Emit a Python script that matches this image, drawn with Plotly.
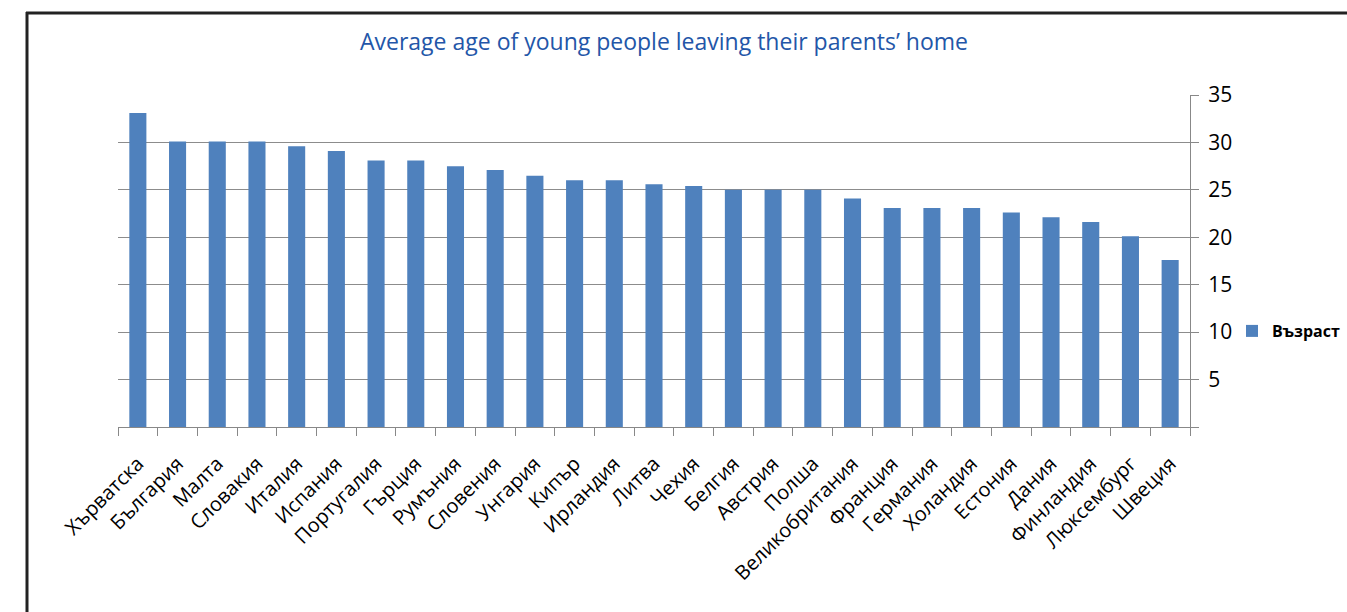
import plotly.graph_objects as go

countries = ["Хърватска", "България", "Малта", "Словакия", "Италия", "Испания",
             "Португалия", "Гърция", "Румъния", "Словения", "Унгария", "Кипър",
             "Ирландия", "Литва", "Чехия", "Белгия", "Австрия", "Полша",
             "Великобритания", "Франция", "Германия", "Холандия", "Естония",
             "Дания", "Финландия", "Люксембург", "Швеция"]
ages = [33.1, 30.1, 30.1, 30.1, 29.6, 29.1, 28.1, 28.1, 27.5, 27.1, 26.5, 26.0,
        26.0, 25.6, 25.4, 25.0, 25.0, 25.0, 24.1, 23.1, 23.1, 23.1, 22.6,
        22.1, 21.6, 20.1, 17.6]
y_ticks = [0, 5, 10, 15, 20, 25, 30, 35]
y_labels = ["", "5", "10", "15", "20", "25", "30", "35"]
series_name = "Възраст"
title_text = "Average age of young people leaving their parents’ home"

FONT = "Open Sans"
W, H = 1347, 612
L, R, T, B = 118, 157, 95, 185
pw, ph = W - L - R, H - T - B

def px_x(px):
    return (px - L) / pw

def px_y(py):
    return (H - B - py) / ph

fig = go.Figure()
fig.add_trace(go.Bar(
    x=countries, y=ages, name="<b>" + series_name + "</b>",
    marker=dict(color="#4F81BD", line=dict(width=0)),
    showlegend=True,
))

fig.update_layout(
    width=W, height=H,
    margin=dict(l=L, r=R, t=T, b=B, autoexpand=False),
    paper_bgcolor="white", plot_bgcolor="white",
    font=dict(family=FONT, color="#000000"),
    bargap=0.57,
    title=dict(text=title_text, x=px_x(664), xref="paper", xanchor="center",
               y=1 - 42 / H, yref="container", yanchor="middle",
               font=dict(family=FONT, size=23, color="#2356A8")),
    xaxis=dict(type="category", tickangle=-45, tickson="boundaries",
               ticks="outside", ticklen=8, tickcolor="#888888", tickwidth=1,
               showline=True, linecolor="#888888", linewidth=1,
               ticklabelstandoff=16,
               showgrid=False, tickfont=dict(family=FONT, size=20, color="#000000")),
    yaxis=dict(side="right", range=[0, 35], tickvals=y_ticks, ticktext=y_labels,
               ticks="outside", ticklen=8, tickcolor="#888888", tickwidth=1,
               showline=True, linecolor="#888888", linewidth=1,
               ticklabelstandoff=5,
               showgrid=True, gridcolor="#8C8C8C", gridwidth=1, zeroline=False,
               tickfont=dict(family=FONT, size=21, color="#000000")),
    legend=dict(x=px_x(1232), y=px_y(331), xanchor="left", yanchor="middle",
                font=dict(family=FONT, size=16, color="#000000"),
                bgcolor="rgba(0,0,0,0)", itemwidth=30),
    shapes=[
        dict(type="line", xref="paper", yref="paper",
             x0=px_x(26), x1=px_x(1350), y0=px_y(13), y1=px_y(13),
             line=dict(color="#222222", width=3)),
        dict(type="line", xref="paper", yref="paper",
             x0=px_x(27), x1=px_x(27), y0=px_y(12), y1=px_y(640),
             line=dict(color="#222222", width=3)),
    ],
)

fig.write_html("out.html", config={"displayModeBar": False},
               post_script="document.body.style.margin='0';document.body.style.padding='0';")
